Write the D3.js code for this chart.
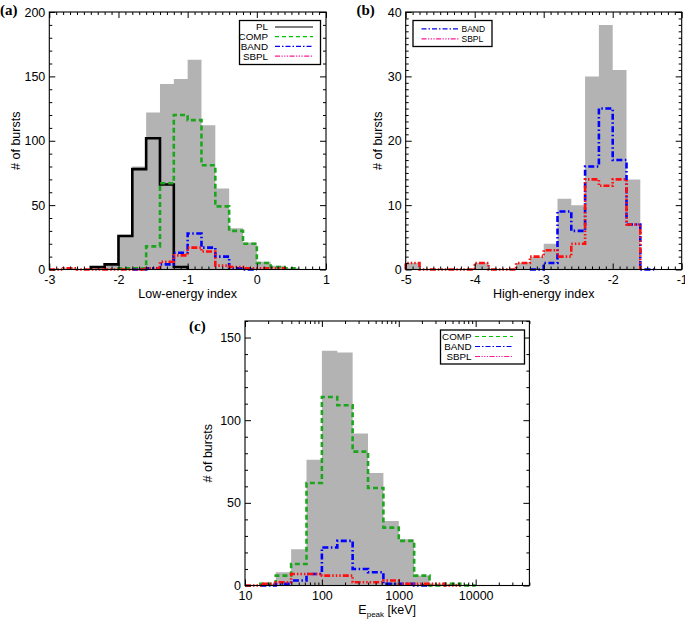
<!DOCTYPE html>
<html>
<head>
<meta charset="utf-8">
<script src="https://cdn.jsdelivr.net/npm/d3@7"></script>
<style>
  body { margin: 0; background: #fff; }
  svg text { font-family: "Liberation Sans", Arial, sans-serif; }
</style>
</head>
<body>
<svg id="fig" width="685" height="619"></svg>
<script>
// ---- data (counts per bin) ----
// (a) low-energy index, bins 0.2 wide; the *Start values are the left edge of the first bin
const lowAll  = [1, 0, 2, 5, 27, 80, 122, 144, 148, 163, 112, 63, 32, 21, 6, 3, 1];
const lowAllStart = -2.8;
const lowPL   = [2, 4, 26, 78, 102, 66, 2];
const lowPLStart = -2.4;
const lowCOMP = [1, 1, 18, 67, 120, 116, 81, 49, 30, 20, 5, 2, 1];
const lowCOMPStart = -2.0;
const lowBAND = [0, 1, 4, 13, 28, 17, 10, 1, 0];
const lowBANDStart = -1.8;
const lowSBPL = [0, 1, 0, 0, 0, 0, 0, 1, 6, 11, 17, 14, 3, 2, 1, 1, 1];
const lowSBPLStart = -3.0;

// (b) high-energy index, bins 0.2 wide
const highAll  = [1, 0, 0, 0, 0, 1, 0, 0, 1, 2, 4, 11, 10, 30, 38, 31, 14];
const highAllStart = -5.0;
const highBAND = [0, 1, 9, 6, 16, 25, 17, 7, 0];
const highBANDStart = -3.2;
const highSBPL = [1, 0, 0, 0, 0, 1, 0, 0, 1, 2, 3, 2, 4, 14, 13, 14, 7];
const highSBPLStart = -5.0;

// (c) Epeak, bins 0.2 wide in log10(keV)
const epkAll  = [1, 8, 22, 76, 142, 141, 92, 68, 39, 28, 6, 1, 1];
const epkAllStart = 1.2;
const epkCOMP = [1, 6, 13, 62, 114, 109, 81, 59, 35, 27, 6, 0, 1, 0];
const epkCOMPStart = 1.2;
const epkBAND = [0, 1, 3, 7, 23, 27, 10, 8, 1, 1, 0];
const epkBANDStart = 1.2;
const epkSBPL = [0, 1, 2, 7, 7, 6, 6, 2, 2, 3, 1, 1, 1, 0];
const epkSBPLStart = 1.0;

const lowTicks = [-3, -2, -1, 0, 1];
const highTicks = [-5, -4, -3, -2, -1];
const epkTicks = [10, 100, 1000, 10000];

// ---- styles ----
const GRAY = "#b3b3b3";
const styles = {
  PL:   { color: "#000000", dash: null,                      legColor: "#000000", legDash: null },
  COMP: { color: "#1ea51e", dash: "5,3",                     legColor: "#00c800", legDash: "4,3" },
  BAND: { color: "#0000ff", dash: "6,2.5,1.5,2.5",           legColor: "#0000ee", legDash: "5,2,1.5,2" },
  SBPL: { color: "#ff1010", dash: "6,2,1.5,2,1.5,2,1.5,2",   legColor: "#ff1493", legDash: "5,1.5,1.2,1.5,1.2,1.5,1.2,1.5" }
};

const svg = d3.select("#fig");

function drawPanel(cfg) {
  const g = svg.append("g");
  const x = (cfg.log ? d3.scaleLog() : d3.scaleLinear()).domain(cfg.xDomain).range(cfg.xRange);
  const y = d3.scaleLinear().domain(cfg.yDomain).range(cfg.yRange);
  const edge = cfg.log ? (s, i) => Math.pow(10, s + i * 0.2) : (s, i) => s + i * 0.2;

  const steps = (start, counts) => {
    const pts = [[edge(start, 0), 0]];
    counts.forEach((c, i) => { pts.push([edge(start, i), c], [edge(start, i + 1), c]); });
    pts.push([edge(start, counts.length), 0]);
    return pts;
  };
  const line = d3.line().x(d => x(d[0])).y(d => y(d[1]));

  // filled histogram of all bursts
  g.append("path")
    .attr("d", line(steps(cfg.allStart, cfg.all)) + "Z")
    .attr("fill", GRAY);

  // per-model outlines
  cfg.series.forEach(s => {
    const st = styles[s.name];
    g.append("path")
      .attr("d", line(steps(s.start, s.counts)))
      .attr("fill", "none")
      .attr("stroke", st.color)
      .attr("stroke-width", 2.6)
      .attr("stroke-dasharray", st.dash)
      .attr("stroke-linejoin", "miter");
  });

  const [x0, x1] = cfg.xRange, [y0, y1] = cfg.yRange;

  // frame
  g.append("rect")
    .attr("x", x0).attr("y", y1)
    .attr("width", x1 - x0).attr("height", y0 - y1)
    .attr("fill", "none").attr("stroke", "#000").attr("stroke-width", 1.1);

  const clean = a => { a.select(".domain").remove(); a.selectAll("line").attr("stroke-width", 1); };
  const fmt = cfg.xFmt || (d => String(d));

  // bottom / top
  g.append("g").attr("transform", `translate(0,${y0})`)
    .call(d3.axisBottom(x).tickValues(cfg.xMajor).tickSize(-6).tickPadding(6).tickFormat(fmt))
    .call(clean)
    .call(a => a.selectAll("text").attr("font-size", 12.5).attr("font-family", "Liberation Sans, Arial, sans-serif"));
  g.append("g").attr("transform", `translate(0,${y0})`)
    .call(d3.axisBottom(x).tickValues(cfg.xMinor).tickSize(-3).tickFormat("")).call(clean);
  g.append("g").attr("transform", `translate(0,${y1})`)
    .call(d3.axisTop(x).tickValues(cfg.xMajor).tickSize(-6).tickFormat("")).call(clean);
  g.append("g").attr("transform", `translate(0,${y1})`)
    .call(d3.axisTop(x).tickValues(cfg.xMinor).tickSize(-3).tickFormat("")).call(clean);

  // left / right
  g.append("g").attr("transform", `translate(${x0},0)`)
    .call(d3.axisLeft(y).tickValues(cfg.yMajor).tickSize(-6).tickPadding(4).tickFormat(d => String(d)))
    .call(clean)
    .call(a => a.selectAll("text").attr("font-size", 12.5).attr("font-family", "Liberation Sans, Arial, sans-serif"));
  g.append("g").attr("transform", `translate(${x0},0)`)
    .call(d3.axisLeft(y).tickValues(cfg.yMinor).tickSize(-3).tickFormat("")).call(clean);
  g.append("g").attr("transform", `translate(${x1},0)`)
    .call(d3.axisRight(y).tickValues(cfg.yMajor).tickSize(-6).tickFormat("")).call(clean);
  g.append("g").attr("transform", `translate(${x1},0)`)
    .call(d3.axisRight(y).tickValues(cfg.yMinor).tickSize(-3).tickFormat("")).call(clean);

  // axis titles
  g.append("text")
    .attr("transform", `translate(${x0 - cfg.yTitleOff},${(y0 + y1) / 2}) rotate(-90)`)
    .attr("text-anchor", "middle").attr("dy", "0.35em")
    .attr("font-size", 12.5).text("# of bursts");
  const xt = g.append("text")
    .attr("x", (x0 + x1) / 2).attr("y", y0 + 28)
    .attr("text-anchor", "middle").attr("font-size", 12.5);
  if (cfg.epeak) {
    xt.append("tspan").text("E");
    xt.append("tspan").attr("font-size", 8).attr("dy", 3).text("peak");
    xt.append("tspan").attr("dy", -3).text(" [keV]");
  } else {
    xt.text(cfg.xTitle);
  }

  // panel tag
  g.append("text")
    .attr("x", cfg.tag[1]).attr("y", cfg.tag[2])
    .style("font-family", "'Liberation Serif', 'Times New Roman', serif")
    .attr("font-weight", "bold").attr("font-size", 15)
    .text(cfg.tag[0]);

  // legend
  const L = cfg.legend;
  g.append("rect")
    .attr("x", L.x).attr("y", L.y).attr("width", L.w).attr("height", L.h)
    .attr("fill", "#fff").attr("stroke", "#000").attr("stroke-width", 1.3);
  L.names.forEach((n, i) => {
    const st = styles[n];
    const ry = L.y + L.first + i * L.step;
    g.append("text")
      .attr("x", L.textX).attr("y", ry).attr("dy", "0.35em")
      .attr("text-anchor", L.textAnchor).attr("font-size", L.fs).text(n);
    g.append("line")
      .attr("x1", L.lx0).attr("x2", L.lx1).attr("y1", ry).attr("y2", ry)
      .attr("stroke", st.legColor).attr("stroke-width", 1.2)
      .attr("stroke-dasharray", st.legDash);
  });
}

const range = (a, b, s) => d3.range(Math.round((b - a) / s) + 1).map(i => +(a + i * s).toFixed(4));
const logMinor = [];
[10, 100, 1000, 10000].forEach(d => { for (let k = 2; k <= 9; k++) if (d * k <= 50000) logMinor.push(d * k); });

drawPanel({
  xDomain: [-3, 1], xRange: [49.3, 326], yDomain: [0, 200], yRange: [269.5, 12],
  all: lowAll, allStart: lowAllStart,
  series: [
    { name: "PL", counts: lowPL, start: lowPLStart },
    { name: "COMP", counts: lowCOMP, start: lowCOMPStart },
    { name: "BAND", counts: lowBAND, start: lowBANDStart },
    { name: "SBPL", counts: lowSBPL, start: lowSBPLStart }
  ],
  xMajor: lowTicks, xMinor: range(-3, 1, 0.1).filter(v => !lowTicks.includes(v)),
  yMajor: [0, 50, 100, 150, 200], yMinor: range(0, 200, 10).filter(v => v % 50),
  xTitle: "Low-energy index", yTitleOff: 34,
  tag: ["(a)", 0, 15],
  legend: { x: 239.5, y: 20.5, w: 81, h: 44, first: 6.5, step: 9.7, textX: 268, textAnchor: "end",
            lx0: 275, lx1: 313, fs: 9.8, names: ["PL", "COMP", "BAND", "SBPL"] }
});

drawPanel({
  xDomain: [-5, -1], xRange: [405.7, 681.7], yDomain: [0, 40], yRange: [269.5, 12],
  all: highAll, allStart: highAllStart,
  series: [
    { name: "BAND", counts: highBAND, start: highBANDStart },
    { name: "SBPL", counts: highSBPL, start: highSBPLStart }
  ],
  xMajor: highTicks, xMinor: range(-5, -1, 0.1).filter(v => !highTicks.includes(v)),
  yMajor: [0, 10, 20, 30, 40], yMinor: range(0, 40, 1).filter(v => v % 10),
  xTitle: "High-energy index", yTitleOff: 28,
  tag: ["(b)", 356.5, 15],
  legend: { x: 413, y: 20.5, w: 79, h: 26, first: 8.3, step: 10, textX: 461.5, textAnchor: "start",
            lx0: 421.5, lx1: 458.5, fs: 8.5, names: ["BAND", "SBPL"] }
});

drawPanel({
  log: true, epeak: true,
  xDomain: [10, 50000], xRange: [245, 529.4], yDomain: [0, 160], yRange: [585.5, 321],
  all: epkAll, allStart: epkAllStart,
  series: [
    { name: "COMP", counts: epkCOMP, start: epkCOMPStart },
    { name: "BAND", counts: epkBAND, start: epkBANDStart },
    { name: "SBPL", counts: epkSBPL, start: epkSBPLStart }
  ],
  xMajor: epkTicks, xMinor: logMinor, xFmt: d3.format("d"),
  yMajor: [0, 50, 100, 150], yMinor: range(0, 160, 10).filter(v => v % 50),
  yTitleOff: 37,
  tag: ["(c)", 189, 331],
  legend: { x: 440.5, y: 330, w: 84, h: 34, first: 6.5, step: 10, textX: 471.5, textAnchor: "end",
            lx0: 475, lx1: 513, fs: 9.8, names: ["COMP", "BAND", "SBPL"] }
});
</script>
</body>
</html>
